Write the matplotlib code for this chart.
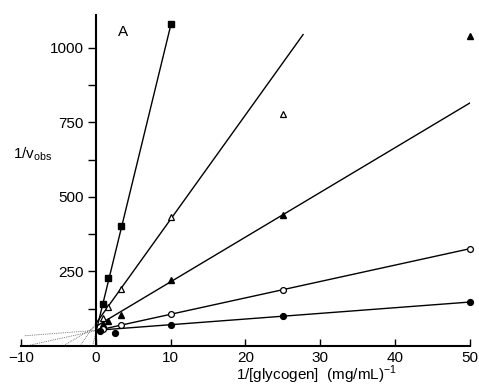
import numpy as np
import matplotlib
matplotlib.use("Agg")
import matplotlib.pyplot as plt
from matplotlib.ticker import FixedLocator, FuncFormatter

plt.rcParams['font.family'] = ['Liberation Sans', 'DejaVu Sans']

# measured points, one list pair per glycogen series
sq_x = [1, 1.67, 3.33, 10]
sq_y = [140, 228, 403, 1080]
otri_x = [1, 1.67, 3.33, 10, 25]
otri_y = [95, 130, 190, 433, 777]
ftri_x = [1, 1.67, 3.33, 10, 25, 50]
ftri_y = [75, 85, 104, 221, 440, 1040]
ocir_x = [1, 3.33, 10, 25, 50]
ocir_y = [58, 70, 106, 188, 325]
fcir_x = [0.5, 2.5, 10, 25, 50]
fcir_y = [50, 44, 71, 100, 148]

# fitted lines (slope, intercept, where the solid line stops)
slopes = [103, 35, 15, 5.5, 1.9]
intercepts = [45, 75, 65, 51, 52]
line_end = [10, 27.7, 50, 50, 50]

fig = plt.figure(figsize=(4.79, 3.86), dpi=100)
ax = fig.add_axes([0.044, 0.104, 0.937, 0.857])

# extrapolation to the left (dotted) and fits (solid)
for m, b, xe in zip(slopes, intercepts, line_end):
    x0 = max(-b / m, -9.5)
    ax.plot([x0, 0], [m * x0 + b, b], color='0.35', lw=0.6, ls=(0, (1, 1.2)))
    ax.plot([0, xe], [b, m * xe + b], color='black', lw=1.0)

mk = dict(color='black', ms=4.2, ls='none', clip_on=False, zorder=3)
ax.plot(sq_x, sq_y, marker='s', **mk)
ax.plot(otri_x, otri_y, marker='^', mfc='white', mew=0.9, **mk)
ax.plot(ftri_x, ftri_y, marker='^', **mk)
ax.plot(ocir_x, ocir_y, marker='o', mfc='white', mew=0.9, **mk)
ax.plot(fcir_x, fcir_y, marker='o', **mk)

ax.set_xlim(-10, 50)
ax.set_ylim(0, 1110)

ax.spines['top'].set_visible(False)
ax.spines['right'].set_visible(False)
ax.spines['left'].set_position(('data', 0))
ax.spines['left'].set_linewidth(1.5)
ax.spines['bottom'].set_linewidth(1.5)

ax.xaxis.set_major_locator(FixedLocator([-10, 0, 10, 20, 30, 40, 50]))
ax.yaxis.set_major_locator(FixedLocator([125, 250, 375, 500, 625, 750, 875, 1000]))
ax.yaxis.set_major_formatter(FuncFormatter(lambda v, p: '%d' % v if v % 250 == 0 else ''))
ax.tick_params(axis='x', direction='in', length=5, width=1.0, labelsize=11, pad=4)
ax.tick_params(axis='y', direction='out', length=6, width=1.0, labelsize=11, pad=3)

ax.text(3.6, 1054, 'A', fontsize=11, ha='center', va='center')
fig.text(0.027, 0.59, r'1/v$_{\mathregular{obs}}$', fontsize=11)
fig.text(0.66, 0.015, r'1/[glycogen]  (mg/mL)$^{\mathregular{-1}}$', fontsize=11, ha='center')

fig.savefig('out.png', dpi=100)
